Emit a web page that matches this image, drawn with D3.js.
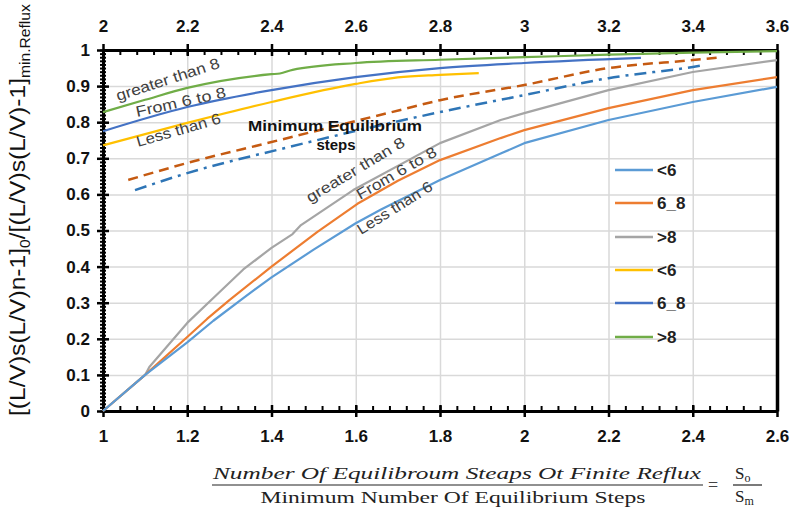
<!DOCTYPE html>
<html>
<head>
<meta charset="utf-8">
<script src="https://cdn.jsdelivr.net/npm/d3@7"></script>
<style>
body { margin: 0; background: #fff; }
svg text { font-family: "Liberation Sans", Arial, sans-serif; }
.grid line { stroke: #d9d9d9; stroke-width: 1.5; }
.grid path { display: none; }
.axis path { stroke: #000; stroke-width: 3; }
.axis line { stroke: #000; stroke-width: 2.5; }
.axis text { font-size: 17px; font-weight: bold; fill: #111; }
.minor path { display: none; }
.minor line { stroke: #000; stroke-width: 2; }
</style>
</head>
<body>
<div id="chart"></div>
<script>
// tick labels
const bottomTicks = [1, 1.2, 1.4, 1.6, 1.8, 2, 2.2, 2.4, 2.6];
const topTicks = [2, 2.2, 2.4, 2.6, 2.8, 3, 3.2, 3.4, 3.6];
const yTicks = [0, 0.1, 0.2, 0.3, 0.4, 0.5, 0.6, 0.7, 0.8, 0.9, 1];

// lower curves, read against the bottom axis (So/Sm)
const low_less6_x = [1, 1.1, 1.2, 1.262, 1.333, 1.4, 1.5, 1.6, 1.66, 1.8, 1.944, 2.0, 2.2, 2.4, 2.6];
const low_less6_y = [0, 0.1, 0.19, 0.25, 0.313, 0.37, 0.447, 0.52, 0.558, 0.64, 0.713, 0.742, 0.806, 0.856, 0.898];
const low_6to8_x = [1, 1.1, 1.2, 1.247, 1.3, 1.4, 1.509, 1.604, 1.7, 1.8, 1.944, 2.0, 2.2, 2.4, 2.6];
const low_6to8_y = [0, 0.1, 0.205, 0.255, 0.307, 0.40, 0.496, 0.574, 0.638, 0.695, 0.756, 0.778, 0.839, 0.889, 0.925];
const low_more8_x = [1, 1.1, 1.11, 1.2, 1.27, 1.333, 1.4, 1.45, 1.47, 1.594, 1.8, 1.944, 2.0, 2.2, 2.4, 2.6];
const low_more8_y = [0, 0.1, 0.122, 0.244, 0.322, 0.392, 0.452, 0.49, 0.515, 0.612, 0.742, 0.806, 0.825, 0.889, 0.939, 0.972];

// upper curves, read against the top axis
const up_less6_x = [2, 2.2, 2.4, 2.6, 2.7, 2.8, 2.892];
const up_less6_y = [0.736, 0.798, 0.856, 0.906, 0.924, 0.931, 0.936];
const up_6to8_x = [2, 2.2, 2.4, 2.6, 2.8, 3.0, 3.277];
const up_6to8_y = [0.775, 0.842, 0.889, 0.925, 0.95, 0.964, 0.978];
const up_more8_x = [2, 2.1, 2.2, 2.4, 2.42, 2.45, 2.6, 2.8, 3.0, 3.2, 3.4, 3.6];
const up_more8_y = [0.828, 0.862, 0.895, 0.933, 0.935, 0.945, 0.964, 0.973, 0.98, 0.987, 0.993, 0.997];

// minimum equilibrium steps (dashed), top axis
const minA_x = [2.06, 2.2, 2.4, 2.706, 2.8, 3.0, 3.2, 3.4, 3.47];
const minA_y = [0.64, 0.687, 0.745, 0.834, 0.861, 0.903, 0.95, 0.972, 0.98];
const minB_x = [2.076, 2.2, 2.43, 2.8, 3.0, 3.2, 3.4, 3.427];
const minB_y = [0.612, 0.659, 0.728, 0.828, 0.875, 0.922, 0.953, 0.958];

const legendLabels = ["<6", "6_8", ">8", "<6", "6_8", ">8"];

const W = 793, H = 514;
const L = 103, R = 777, T = 50, B = 411;

const x = d3.scaleLinear().domain([1, 2.6]).range([L, R]);
const xTop = d3.scaleLinear().domain([2, 3.6]).range([L, R]);
const y = d3.scaleLinear().domain([0, 1]).range([B, T]);

const svg = d3.select("#chart").append("svg")
    .attr("width", W)
    .attr("height", H);

// gridlines
svg.append("g").attr("class", "grid")
    .attr("transform", "translate(0," + B + ")")
    .call(d3.axisBottom(x).tickValues(bottomTicks).tickSize(-(B - T)).tickFormat(""));
svg.append("g").attr("class", "grid")
    .attr("transform", "translate(" + L + ",0)")
    .call(d3.axisLeft(y).tickValues(yTicks).tickSize(-(R - L)).tickFormat(""));

// minor ticks
const yMinor = d3.range(0, 101).map(i => i / 100);
const xMinor = d3.range(0, 41).map(i => 1 + i * 0.04);
const xTopMinor = d3.range(0, 41).map(i => 2 + i * 0.04);
[3, -3].forEach(function (s) {
    svg.append("g").attr("class", "minor")
        .attr("transform", "translate(" + L + ",0)")
        .call(d3.axisLeft(y).tickValues(yMinor).tickSize(s).tickFormat(""));
});
svg.append("g").attr("class", "minor")
    .attr("transform", "translate(0," + B + ")")
    .call(d3.axisBottom(x).tickValues(xMinor).tickSize(-5).tickFormat(""));
svg.append("g").attr("class", "minor")
    .attr("transform", "translate(0," + T + ")")
    .call(d3.axisTop(xTop).tickValues(xTopMinor).tickSize(-5).tickFormat(""));

// major axes, ticks crossing the line
svg.append("g").attr("class", "axis")
    .attr("transform", "translate(" + L + ",0)")
    .call(d3.axisLeft(y).tickValues(yTicks).tickSize(6).tickSizeOuter(0).tickPadding(7).tickFormat(d3.format("")))
    .call(g => g.selectAll(".tick line").attr("x2", 6).attr("x1", -6));
svg.append("g").attr("class", "axis")
    .attr("transform", "translate(0," + B + ")")
    .call(d3.axisBottom(x).tickValues(bottomTicks).tickSize(6).tickSizeOuter(0).tickPadding(13).tickFormat(d3.format("")))
    .call(g => g.selectAll(".tick line").attr("y1", -6));
svg.append("g").attr("class", "axis")
    .attr("transform", "translate(0," + T + ")")
    .call(d3.axisTop(xTop).tickValues(topTicks).tickSize(6).tickSizeOuter(0).tickPadding(12).tickFormat(d3.format("")))
    .call(g => g.selectAll(".tick line").attr("y1", 6));
svg.append("g").attr("class", "axis")
    .attr("transform", "translate(" + R + ",0)")
    .call(d3.axisRight(y).tickValues([]).tickSizeOuter(0))
    .select("path").style("stroke-width", 3.5);

// series
const toPts = (xs, ys) => xs.map((v, i) => ({ x: v, y: ys[i] }));
const lineLow = d3.line().x(d => x(d.x)).y(d => y(d.y));
const lineTop = d3.line().x(d => xTop(d.x)).y(d => y(d.y)).curve(d3.curveMonotoneX);

const series = [
    { pts: toPts(up_less6_x, up_less6_y), gen: lineTop, color: "#ffc000", dash: null },
    { pts: toPts(up_6to8_x, up_6to8_y), gen: lineTop, color: "#4472c4", dash: null },
    { pts: toPts(up_more8_x, up_more8_y), gen: lineTop, color: "#70ad47", dash: null },
    { pts: toPts(minA_x, minA_y), gen: lineTop, color: "#c55a11", dash: "10,6" },
    { pts: toPts(minB_x, minB_y), gen: lineTop, color: "#2e75b6", dash: "12,6,3,6" },
    { pts: toPts(low_more8_x, low_more8_y), gen: lineLow, color: "#a5a5a5", dash: null },
    { pts: toPts(low_6to8_x, low_6to8_y), gen: lineLow, color: "#ed7d31", dash: null },
    { pts: toPts(low_less6_x, low_less6_y), gen: lineLow, color: "#5b9bd5", dash: null }
];

svg.append("g").selectAll("path")
    .data(series)
    .enter()
    .append("path")
    .attr("d", d => d.gen(d.pts))
    .attr("fill", "none")
    .attr("stroke", d => d.color)
    .attr("stroke-width", d => d.dash ? 2.5 : 2.2)
    .attr("stroke-linejoin", "round")
    .attr("stroke-dasharray", d => d.dash);

// legend
const legendColors = ["#5b9bd5", "#ed7d31", "#a5a5a5", "#ffc000", "#4472c4", "#70ad47"];
const legendY = [170, 203, 237, 270, 303, 337];
const leg = svg.append("g").selectAll("g")
    .data(legendLabels)
    .enter()
    .append("g")
    .attr("transform", (d, i) => "translate(615," + legendY[i] + ")");
leg.append("line")
    .attr("x1", 0).attr("x2", 38)
    .attr("stroke", (d, i) => legendColors[i])
    .attr("stroke-width", 2.5);
leg.append("text")
    .attr("x", 42)
    .attr("dy", "0.35em")
    .style("font-size", "17px")
    .style("font-weight", "bold")
    .attr("fill", "#222")
    .text(d => d);

// curve annotations
const notes = [
    { t: "greater than 8", x: 118, y: 101, a: -18, len: 108 },
    { t: "From 6 to 8", x: 137, y: 117, a: -12.5, len: 92 },
    { t: "Less than 6", x: 138, y: 147, a: -16, len: 87 },
    { t: "greater than 8", x: 310, y: 203, a: -31, len: 112 },
    { t: "From 6 to 8", x: 360, y: 200, a: -30, len: 90 },
    { t: "Less than 6", x: 361, y: 235, a: -32, len: 86 }
];
svg.append("g").selectAll("text")
    .data(notes)
    .enter()
    .append("text")
    .attr("transform", d => "translate(" + d.x + "," + d.y + ") rotate(" + d.a + ")")
    .attr("textLength", d => d.len)
    .attr("lengthAdjust", "spacingAndGlyphs")
    .style("font-size", "15px")
    .attr("fill", "#404040")
    .text(d => d.t);

svg.append("text")
    .attr("x", 335).attr("y", 131)
    .attr("text-anchor", "middle")
    .attr("textLength", 174).attr("lengthAdjust", "spacingAndGlyphs")
    .style("font-size", "15px").style("font-weight", "bold")
    .attr("fill", "#111")
    .text("Minimum Equilibrium");
svg.append("text")
    .attr("x", 336).attr("y", 150)
    .attr("text-anchor", "middle")
    .style("font-size", "15px").style("font-weight", "bold")
    .attr("fill", "#111")
    .text("steps");

// y axis title
const yt = svg.append("text")
    .style("font-size", "22px")
    .attr("fill", "#111");
yt.append("tspan").text("[(L/V)s(L/V)n-1]");
yt.append("tspan").attr("dy", 5).style("font-size", "14px").text("0");
yt.append("tspan").attr("dy", -5).text("/[(L/V)s(L/V)-1]");
yt.append("tspan").attr("dy", 5).style("font-size", "14px").text("min.Reflux");
const ytw = yt.node().getComputedTextLength();
yt.attr("transform", "translate(25,416) rotate(-90) scale(" + (412 / ytw) + ",1)");

// x axis title as a fraction
svg.append("text")
    .attr("x", 457).attr("y", 479)
    .attr("text-anchor", "middle")
    .attr("textLength", 488).attr("lengthAdjust", "spacingAndGlyphs")
    .style("font-family", "'Liberation Serif', serif")
    .style("font-style", "italic")
    .style("font-size", "17px")
    .attr("fill", "#222")
    .text("Number Of Equilibroum Steaps Ot Finite Reflux");
svg.append("line")
    .attr("x1", 212).attr("x2", 703).attr("y1", 485).attr("y2", 485)
    .attr("stroke", "#222").attr("stroke-width", 1.2);
svg.append("text")
    .attr("x", 453).attr("y", 503)
    .attr("text-anchor", "middle")
    .attr("textLength", 385).attr("lengthAdjust", "spacingAndGlyphs")
    .style("font-family", "'Liberation Serif', serif")
    .style("font-size", "17px")
    .attr("fill", "#222")
    .text("Minimum Number Of Equilibrium Steps");
svg.append("text")
    .attr("x", 713).attr("y", 491)
    .attr("text-anchor", "middle")
    .style("font-family", "'Liberation Serif', serif")
    .style("font-size", "18px")
    .attr("fill", "#444")
    .text("=");
const so = svg.append("text")
    .attr("x", 735).attr("y", 479)
    .style("font-family", "'Liberation Serif', serif")
    .style("font-size", "17px")
    .attr("fill", "#222");
so.append("tspan").text("S");
so.append("tspan").attr("dy", 3).style("font-size", "12px").text("o");
svg.append("line")
    .attr("x1", 733).attr("x2", 762).attr("y1", 485).attr("y2", 485)
    .attr("stroke", "#222").attr("stroke-width", 1.2);
const sm = svg.append("text")
    .attr("x", 735).attr("y", 502)
    .style("font-family", "'Liberation Serif', serif")
    .style("font-size", "17px")
    .attr("fill", "#222");
sm.append("tspan").text("S");
sm.append("tspan").attr("dy", 3).style("font-size", "12px").text("m");
</script>
</body>
</html>
